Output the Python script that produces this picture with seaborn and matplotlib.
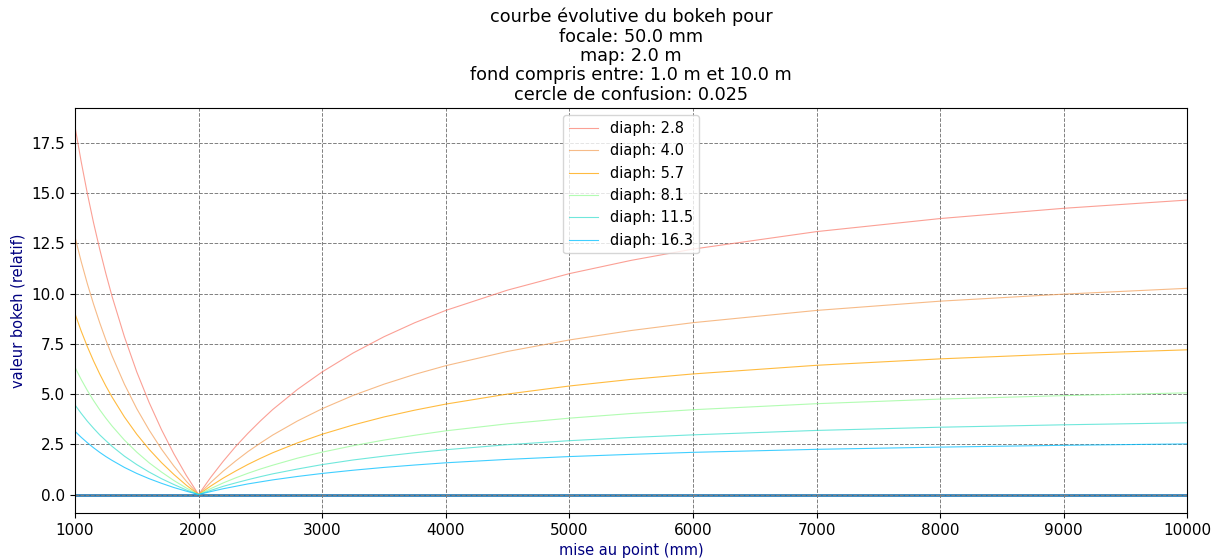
import pandas as pd
import matplotlib
matplotlib.use("Agg")
import matplotlib.pyplot as plt
import seaborn as sns

# mise au point (mm)
distances = [1000, 1050, 1100, 1150, 1200, 1250, 1300, 1400, 1500, 1600, 1700, 1800, 1900, 2000,
             2100, 2200, 2300, 2400, 2500, 2600, 2800, 3000, 3250, 3500, 3750, 4000,
             4500, 5000, 5500, 6000, 7000, 8000, 9000, 10000]

diaph_2_8 = [18.31, 16.57, 14.98, 13.53, 12.21, 10.99, 9.86, 7.85, 6.10, 4.58, 3.23, 2.03, 0.96, 0,
             0.87, 1.66, 2.39, 3.05, 3.66, 4.23, 5.23, 6.10, 7.04, 7.85, 8.55, 9.16,
             10.17, 10.99, 11.65, 12.21, 13.08, 13.73, 14.24, 14.65]
diaph_4_0 = [12.82, 11.60, 10.49, 9.48, 8.55, 7.69, 6.90, 5.49, 4.27, 3.21, 2.26, 1.42, 0.67, 0,
             0.61, 1.17, 1.67, 2.14, 2.56, 2.96, 3.66, 4.27, 4.93, 5.49, 5.98, 6.41,
             7.12, 7.69, 8.16, 8.55, 9.16, 9.62, 9.97, 10.26]
diaph_5_7 = [9.0, 8.14, 7.36, 6.65, 6.0, 5.4, 4.85, 3.86, 3.0, 2.25, 1.59, 1.0, 0.47, 0,
             0.43, 0.82, 1.17, 1.5, 1.8, 2.08, 2.57, 3.0, 3.46, 3.86, 4.2, 4.5,
             5.0, 5.4, 5.73, 6.0, 6.43, 6.75, 7.0, 7.2]
diaph_8_1 = [6.33, 5.73, 5.18, 4.68, 4.22, 3.8, 3.41, 2.71, 2.11, 1.58, 1.12, 0.7, 0.33, 0,
             0.30, 0.58, 0.83, 1.06, 1.27, 1.46, 1.81, 2.11, 2.43, 2.71, 2.95, 3.17,
             3.52, 3.8, 4.03, 4.22, 4.52, 4.75, 4.92, 5.06]
diaph_11_5 = [4.46, 4.04, 3.65, 3.30, 2.97, 2.68, 2.40, 1.91, 1.49, 1.12, 0.79, 0.5, 0.23, 0,
              0.21, 0.41, 0.58, 0.74, 0.89, 1.03, 1.27, 1.49, 1.72, 1.91, 2.08, 2.23,
              2.48, 2.68, 2.84, 2.97, 3.19, 3.35, 3.47, 3.57]
diaph_16_3 = [3.15, 2.85, 2.58, 2.33, 2.1, 1.89, 1.7, 1.35, 1.05, 0.79, 0.56, 0.35, 0.17, 0,
              0.15, 0.29, 0.41, 0.53, 0.63, 0.73, 0.9, 1.05, 1.21, 1.35, 1.47, 1.58,
              1.75, 1.89, 2.0, 2.1, 2.25, 2.36, 2.45, 2.52]

diaph_labels = ["diaph: 2.8", "diaph: 4.0", "diaph: 5.7", "diaph: 8.1", "diaph: 11.5", "diaph: 16.3"]
baseline = [0.0] * len(distances)

colors = ["salmon", "sandybrown", "orange", "palegreen", "turquoise", "deepskyblue"]

series = [diaph_2_8, diaph_4_0, diaph_5_7, diaph_8_1, diaph_11_5, diaph_16_3]
rows = []
for label, values in zip(diaph_labels, series):
    for d, v in zip(distances, values):
        rows.append({"map": d, "bokeh": v, "diaph": label})
df = pd.DataFrame(rows)

fig, ax = plt.subplots(figsize=(12.19, 5.6), dpi=100)
sns.lineplot(data=df, x="map", y="bokeh", hue="diaph", hue_order=diaph_labels,
             palette=dict(zip(diaph_labels, colors)),
             linewidth=0.8, alpha=0.75, ax=ax, estimator=None, sort=False)
ax.plot(distances, baseline, color="tab:blue", linewidth=1.9, zorder=1)

ax.set_xlim(1000, 10000)
ax.grid(True, color="gray", linestyle="--", linewidth=0.7)
ax.tick_params(labelsize=11)
ax.set_xlabel("mise au point (mm)", color="navy", fontsize=10.5)
ax.set_ylabel("valeur bokeh (relatif)", color="navy", fontsize=10.5)
ax.set_title("courbe évolutive du bokeh pour\nfocale: 50.0 mm\nmap: 2.0 m\n"
             "fond compris entre: 1.0 m et 10.0 m\ncercle de confusion: 0.025",
             fontsize=12.7, linespacing=1.1)
ax.legend(loc="upper center", title=None, fontsize=10.5)

fig.subplots_adjust(left=0.0615, right=0.974, top=0.807, bottom=0.084)
fig.savefig("out.png", dpi=100)
